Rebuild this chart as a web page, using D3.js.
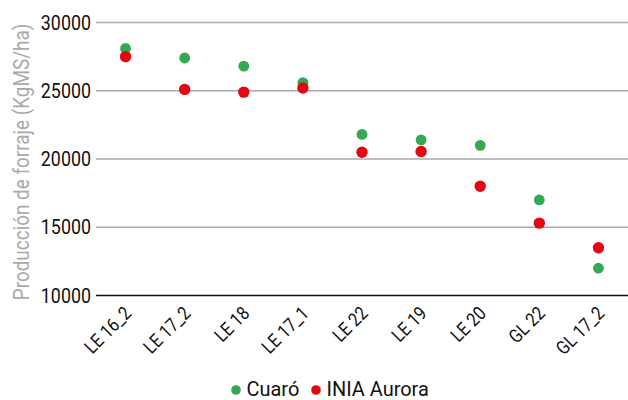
<!DOCTYPE html>
<html lang="es">
<head>
    <meta charset="utf-8">
    <title>Producción de forraje</title>
    <script src="https://d3js.org/d3.v7.min.js"></script>
    <style>
        html, body { margin: 0; padding: 0; background: #fff; }
        text { font-family: Roboto, "Liberation Sans", sans-serif; }
        .grid line { stroke: #aaa; stroke-width: 1.5px; }
    </style>
</head>
<body>
    <div id="chart"></div>
    <script>
        // data
        var categories = ["LE 16_2", "LE 17_2", "LE 18", "LE 17_1", "LE 22", "LE 19", "LE 20", "GL 22", "GL 17_2"];
        var cuaro = [28100, 27400, 26800, 25600, 21800, 21400, 21000, 17000, 12000];
        var aurora = [27500, 25100, 24900, 25200, 20500, 20550, 18000, 15300, 13500];
        var yTicks = [10000, 15000, 20000, 25000, 30000];
        var seriesNames = ["Cuaró", "INIA Aurora"];

        var width = 628, height = 400;
        var margin = {left: 96, right: 0, top: 22.5, bottom: 104.5};

        var svg = d3.select("#chart").append("svg")
            .attr("width", width)
            .attr("height", height);

        // the original uses a condensed face, squeeze the glyphs to match
        function condense(sel, k) {
            sel.each(function() {
                var len = this.getComputedTextLength();
                d3.select(this)
                    .attr("textLength", len * k)
                    .attr("lengthAdjust", "spacingAndGlyphs");
            });
        }

        var x = d3.scaleBand()
            .domain(categories)
            .range([margin.left, width - margin.right]);

        var y = d3.scaleLinear()
            .domain([10000, 30000])
            .range([height - margin.bottom, margin.top]);

        //grid lines
        svg.append("g")
            .attr("class", "grid")
            .selectAll("line")
            .data(yTicks)
            .enter().append("line")
            .attr("x1", margin.left)
            .attr("x2", width - margin.right)
            .attr("y1", function(d) { return y(d); })
            .attr("y2", function(d) { return y(d); })
            .style("stroke", function(d) { return d == 10000 ? "#111" : "#aaa"; });

        //y tick labels
        var yAxis = svg.append("g")
            .attr("transform", "translate(" + margin.left + ",0)")
            .call(d3.axisLeft(y).tickValues(yTicks).tickSize(0).tickPadding(5).tickFormat(d3.format("d")));
        yAxis.select(".domain").remove();
        yAxis.selectAll("text")
            .style("font-size", "21px")
            .style("font-family", "Roboto, sans-serif")
            .attr("fill", "#111")
            .call(condense, 0.85);

        //x tick labels, rotated; textLength goes wrong under rotation so squeeze with scale()
        svg.append("g")
            .selectAll("g")
            .data(categories)
            .enter().append("g")
            .attr("transform", function(d) {
                return "translate(" + (x(d) + x.bandwidth() / 2 + 7) + "," + (y(10000) + 19) + ") rotate(-45) scale(0.86,1)";
            })
            .append("text")
            .attr("text-anchor", "end")
            .attr("fill", "#111")
            .style("font-size", "19px")
            .text(function(d) { return d; });

        //y title
        svg.append("g")
            .attr("transform", "translate(29," + (y(20000) + 3) + ") rotate(-90) scale(0.86,1)")
            .append("text")
            .attr("text-anchor", "middle")
            .attr("fill", "#aaa")
            .style("font-size", "22px")
            .text("Producción de forraje (KgMS/ha)");

        var green = "#35a853", red = "#e30613";

        //dots
        var cx = function(d, i) { return x(categories[i]) + x.bandwidth() / 2; };

        svg.append("g").selectAll("circle")
            .data(cuaro)
            .enter().append("circle")
            .attr("cx", cx)
            .attr("cy", function(d) { return y(d); })
            .attr("r", 5.4)
            .attr("fill", green);

        svg.append("g").selectAll("circle")
            .data(aurora)
            .enter().append("circle")
            .attr("cx", cx)
            .attr("cy", function(d) { return y(d); })
            .attr("r", 5.7)
            .attr("fill", red);

        //legend
        var legend = svg.append("g");
        var legendItems = [
            {name: seriesNames[0], color: green, x: 236},
            {name: seriesNames[1], color: red, x: 316}
        ];
        legendItems.forEach(function(item) {
            legend.append("circle")
                .attr("cx", item.x)
                .attr("cy", 390)
                .attr("r", 4.8)
                .attr("fill", item.color);
            legend.append("text")
                .attr("x", item.x + 10.5)
                .attr("y", 396)
                .attr("fill", "#111")
                .style("font-size", "21px")
                .text(item.name)
                .call(condense, 0.95);
        });
    </script>
</body>
</html>
